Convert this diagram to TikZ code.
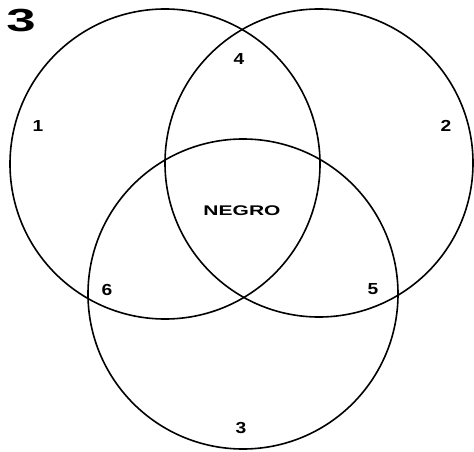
\documentclass[tikz,border=0pt]{standalone}
\usepackage{fontspec}
\setmainfont{Liberation Sans}
\usetikzlibrary{positioning}

\begin{document}
\begin{tikzpicture}[
  x=1pt, y=1pt,
  ring/.style={line width=1.6pt},
  region/.style={font=\bfseries\fontsize{16}{16}\selectfont, xscale=1.2, transform shape, inner sep=0pt},
  word/.style={font=\bfseries\fontsize{14}{14}\selectfont, xscale=1.5, transform shape, inner sep=0pt},
  figno/.style={font=\bfseries\fontsize{32}{32}\selectfont, xscale=1.65, transform shape, inner sep=0pt},
]
  \useasboundingbox (0,0) rectangle (474,-452);

  % centres of the three circles
  \coordinate (c1) at (165,-164);
  \coordinate (c2) at (319,-163);
  \coordinate (c3) at (243,-294);

  \draw[ring] (c1) circle (155);
  \draw[ring] (c2) circle (154);
  \draw[ring] (c3) circle (155);

  % figure number
  \node[figno] (fig) at (21,-21) {3};

  % regions
  \node[region] (r1) at (38,-126) {1};
  \node[region] (r2) at (446,-126) {2};
  \node[region] (r3) at (241,-428) {3};
  \node[region] (r4) at (239,-59) {4};
  \node[region] (r5) at (373,-289) {5};
  \node[region] (r6) at (107,-290) {6};
  \node[word] (mid) at (242,-211) {NEGRO};
\end{tikzpicture}
\end{document}
